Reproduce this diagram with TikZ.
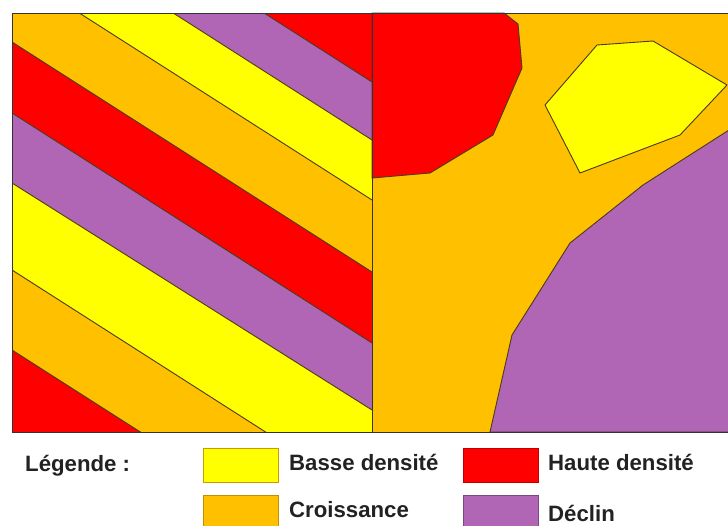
\documentclass[tikz,border=0pt]{standalone}
\usepackage{fontspec}
\setmainfont{Liberation Sans}
\definecolor{cyel}{HTML}{FFFF00}
\definecolor{cora}{HTML}{FFC000}
\definecolor{cred}{HTML}{FF0000}
\definecolor{cpur}{HTML}{B065B5}
\definecolor{cline}{HTML}{4A3A1E}
\definecolor{ctext}{HTML}{222222}
\tikzset{
  region/.style={draw=cline, line width=0.9pt, line join=round},
  sep/.style={draw=cline, line width=0.9pt},
  frame/.style={draw=black!80, line width=1pt},
  legbox/.style={minimum width=75pt, minimum height=34pt, inner sep=0pt, line width=0.9pt, anchor=north west},
  legtext/.style={font=\fontsize{22.2}{25}\selectfont\bfseries, text=ctext, inner sep=0pt, anchor=base west}
}
\begin{document}
\begin{tikzpicture}[x=1pt,y=-1pt]
\clip (0,0) rectangle (728,525);
\fill[white] (0,0) rectangle (728,525);
% ---------- left panel : stripes ----------
\begin{scope}
\clip (12,13) rectangle (372,432);
\fill[cred] (12,-500) -- (372,-270) -- (372,82) -- (12,-148) -- cycle;
\fill[cpur] (12,-148) -- (372,82) -- (372,140) -- (12,-90) -- cycle;
\fill[cyel] (12,-90) -- (372,140) -- (372,200) -- (12,-30) -- cycle;
\fill[cora] (12,-30) -- (372,200) -- (372,272) -- (12,42) -- cycle;
\fill[cred] (12,42) -- (372,272) -- (372,343) -- (12,113) -- cycle;
\fill[cpur] (12,113) -- (372,343) -- (372,410) -- (12,183) -- cycle;
\fill[cyel] (12,183) -- (372,410) -- (372,500) -- (12,270) -- cycle;
\fill[cora] (12,270) -- (372,500) -- (372,580) -- (12,350) -- cycle;
\fill[cred] (12,350) -- (372,580) -- (372,900) -- (12,700) -- cycle;
\draw[sep] (12,-148) -- (372,82);
\draw[sep] (12,-90) -- (372,140);
\draw[sep] (12,-30) -- (372,200);
\draw[sep] (12,42) -- (372,272);
\draw[sep] (12,113) -- (372,343);
\draw[sep] (12,183) -- (372,410);
\draw[sep] (12,270) -- (372,500);
\draw[sep] (12,350) -- (372,580);
\end{scope}
% ---------- right panel : zones ----------
\fill[cora] (372,13) rectangle (729,432);
\filldraw[fill=cred, region] (372,13) -- (504,13) -- (518,24) -- (522,68) -- (493,135) -- (430,173) -- (372,178) -- cycle;
\filldraw[fill=cyel, region] (597,45) -- (653,41) -- (727,85) -- (680,135) -- (580,173) -- (545,105) -- cycle;
\filldraw[fill=cpur, region] (729,130) -- (643,185) -- (570,243) -- (512,335) -- (490,432) -- (729,432) -- cycle;
% ---------- frames ----------
\draw[frame] (12,13) rectangle (372,432);
\draw[frame] (372,13) -- (729,13);
\draw[frame] (372,432) -- (729,432);
% ---------- legend ----------
\node[legtext] (leg) at (25,471) {Légende :};
\node[legbox, fill=cyel, draw=cora!80!black] (byel) at (203,448) {};
\node[legtext] (tyel) at (289,470) {Basse densité};
\node[legbox, fill=cred, draw=cred!75!black] (bred) at (463,448) {};
\node[legtext] (tred) at (548,470) {Haute densité};
\node[legbox, fill=cora, draw=cora!75!black] (bora) at (203,495) {};
\node[legtext] (tora) at (289,517) {Croissance};
\node[legbox, fill=cpur, draw=cpur!70!black] (bpur) at (463,495) {};
\node[legtext] (tpur) at (548,521) {Déclin};
\end{tikzpicture}
\end{document}
